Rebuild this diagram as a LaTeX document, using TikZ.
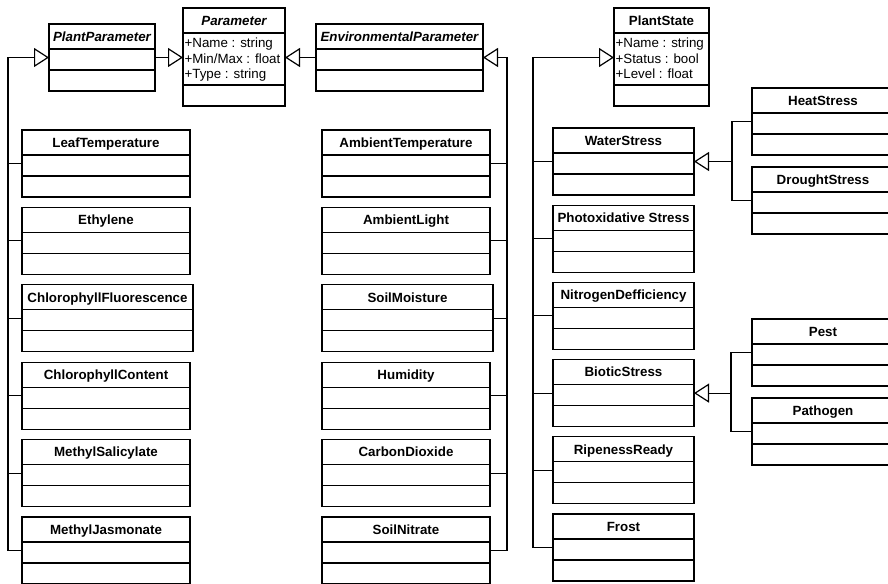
\documentclass[tikz,border=0pt]{standalone}
\usepackage{fontspec}
\setmainfont{Liberation Sans}
\usetikzlibrary{arrows.meta}
\tikzset{every picture/.style={line width=0.9pt}}
\tikzset{
  classbox/.style={draw, rectangle, anchor=north west, outer sep=0pt, inner sep=0pt, minimum height=67*0.75pt},
  classtitle/.style={font=\bfseries, inner sep=0.75pt, text height=7.2pt, text depth=0pt},
  attrtext/.style={anchor=base west, inner sep=0.75pt},
  generalization/.style={-{Triangle[open,length=11.25pt,width=14.25pt]}},
}

% class with empty sections: name, x, y, width, title
\newcommand{\umlclass}[5]{%
  \node[classbox, minimum width=#4*0.75pt] (#1) at (#2,#3) {};
  \path (#1.north) ++(0,12.5) node[classtitle] (#1-t) {#5};
  \draw (#1.north west) ++(0,25) -- ++(#4,0);
  \draw (#1.north west) ++(0,46) -- ++(#4,0);
  \path (#1.north west) ++(0,33.5) coordinate (#1-l);
  \path (#1.north east) ++(0,33.5) coordinate (#1-r);
}
% class with attributes: name, x, y, width, title, attributes
\newcommand{\umlattrclass}[6]{%
  \node[classbox, minimum width=#4*0.75pt, minimum height=98*0.75pt] (#1) at (#2,#3) {};
  \path (#1.north) ++(0,12.5) node[classtitle] (#1-t) {#5};
  \draw (#1.north west) ++(0,25) -- ++(#4,0);
  \draw (#1.north west) ++(0,77) -- ++(#4,0);
  \foreach \a [count=\k] in {#6}
    \path (#1.north west) ++(0,{24.5+15.5*\k}) node[attrtext] (#1-a\k) {\a};
  \path (#1.north west) ++(0,49.5) coordinate (#1-l);
  \path (#1.north east) ++(0,49.5) coordinate (#1-r);
}

\begin{document}
\begin{tikzpicture}[x=0.75pt,y=0.75pt,yscale=-1,xscale=1]
\useasboundingbox (0,0) rectangle (888,584);
\clip (0,0) rectangle (888,584);

%Shape: Class [Parameter]
\umlattrclass{Parameter}{183}{8}{102}{\itshape Parameter}{+Name : string, +Min/Max : float, +Type : string}
%Shape: Class [PlantState]
\umlattrclass{PlantState}{614}{8}{95}{PlantState}{+Name : string, +Status : bool, +Level : float}
%Shape: Class [PlantParameter]
\umlclass{PlantParameter}{49}{24}{106}{\itshape PlantParameter}
%Shape: Class [EnvironmentalParameter]
\umlclass{EnvironmentalParameter}{316}{24}{167}{\itshape EnvironmentalParameter}

%Shape: Classes, plant parameters
\foreach \n/\t/\w [count=\i from 0] in {LeafTemperature/LeafTemperature/168, Ethylene/Ethylene/168, ChlorophyllFluorescence/ChlorophyllFluorescence/171, ChlorophyllContent/ChlorophyllContent/168, MethylSalicylate/MethylSalicylate/168, MethylJasmonate/MethylJasmonate/168}
  {\pgfmathsetmacro\ytop{130+77.4*\i}\umlclass{\n}{22}{\ytop}{\w}{\t}}
%Shape: Classes, environmental parameters
\foreach \n/\t/\w [count=\i from 0] in {AmbientTemperature/AmbientTemperature/168, AmbientLight/AmbientLight/168, SoilMoisture/SoilMoisture/171, Humidity/Humidity/168, CarbonDioxide/CarbonDioxide/168, SoilNitrate/SoilNitrate/168}
  {\pgfmathsetmacro\ytop{130+77.4*\i}\umlclass{\n}{322}{\ytop}{\w}{\t}}
%Shape: Classes, plant states
\foreach \n/\t [count=\i from 0] in {WaterStress/WaterStress, PhotoxidativeStress/Photoxidative Stress, NitrogenDefficiency/NitrogenDefficiency, BioticStress/BioticStress, RipenessReady/RipenessReady, Frost/Frost}
  {\pgfmathsetmacro\ytop{128+77.2*\i}\umlclass{\n}{553}{\ytop}{141}{\t}}
%Shape: Classes, sub states
\umlclass{HeatStress}{752}{88}{142}{HeatStress}
\umlclass{DroughtStress}{752}{167}{142}{DroughtStress}
\umlclass{Pest}{752}{319}{142}{Pest}
\umlclass{Pathogen}{752}{398}{142}{Pathogen}

%Straight Lines: generalizations
\draw[generalization] (PlantParameter-r) -- (Parameter-l);
\draw[generalization] (EnvironmentalParameter-l) -- (Parameter-r);

\path (PlantParameter-l) ++(-41,0) coordinate (busL);
\draw[generalization] (busL) -- (PlantParameter-l);
\foreach \n in {LeafTemperature, Ethylene, ChlorophyllFluorescence, ChlorophyllContent, MethylSalicylate, MethylJasmonate}
  \draw (\n-l) -| (busL);

\path (EnvironmentalParameter-r) ++(24,0) coordinate (busM);
\draw[generalization] (busM) -- (EnvironmentalParameter-r);
\foreach \n in {AmbientTemperature, AmbientLight, SoilMoisture, Humidity, CarbonDioxide, SoilNitrate}
  \draw (\n-r) -| (busM);

\path (PlantState-l) ++(-81,0) coordinate (busS);
\draw[generalization] (busS) -- (PlantState-l);
\foreach \n in {WaterStress, PhotoxidativeStress, NitrogenDefficiency, BioticStress, RipenessReady, Frost}
  \draw (\n-l) -| (busS);

\path (WaterStress-r) ++(38,0) coordinate (busW);
\draw[generalization] (busW) -- (WaterStress-r);
\draw (HeatStress-l) -| (busW);
\draw (DroughtStress-l) -| (busW);

\path (BioticStress-r) ++(37,0) coordinate (busB);
\draw[generalization] (busB) -- (BioticStress-r);
\draw (Pest-l) -| (busB);
\draw (Pathogen-l) -| (busB);

\end{tikzpicture}
\end{document}
